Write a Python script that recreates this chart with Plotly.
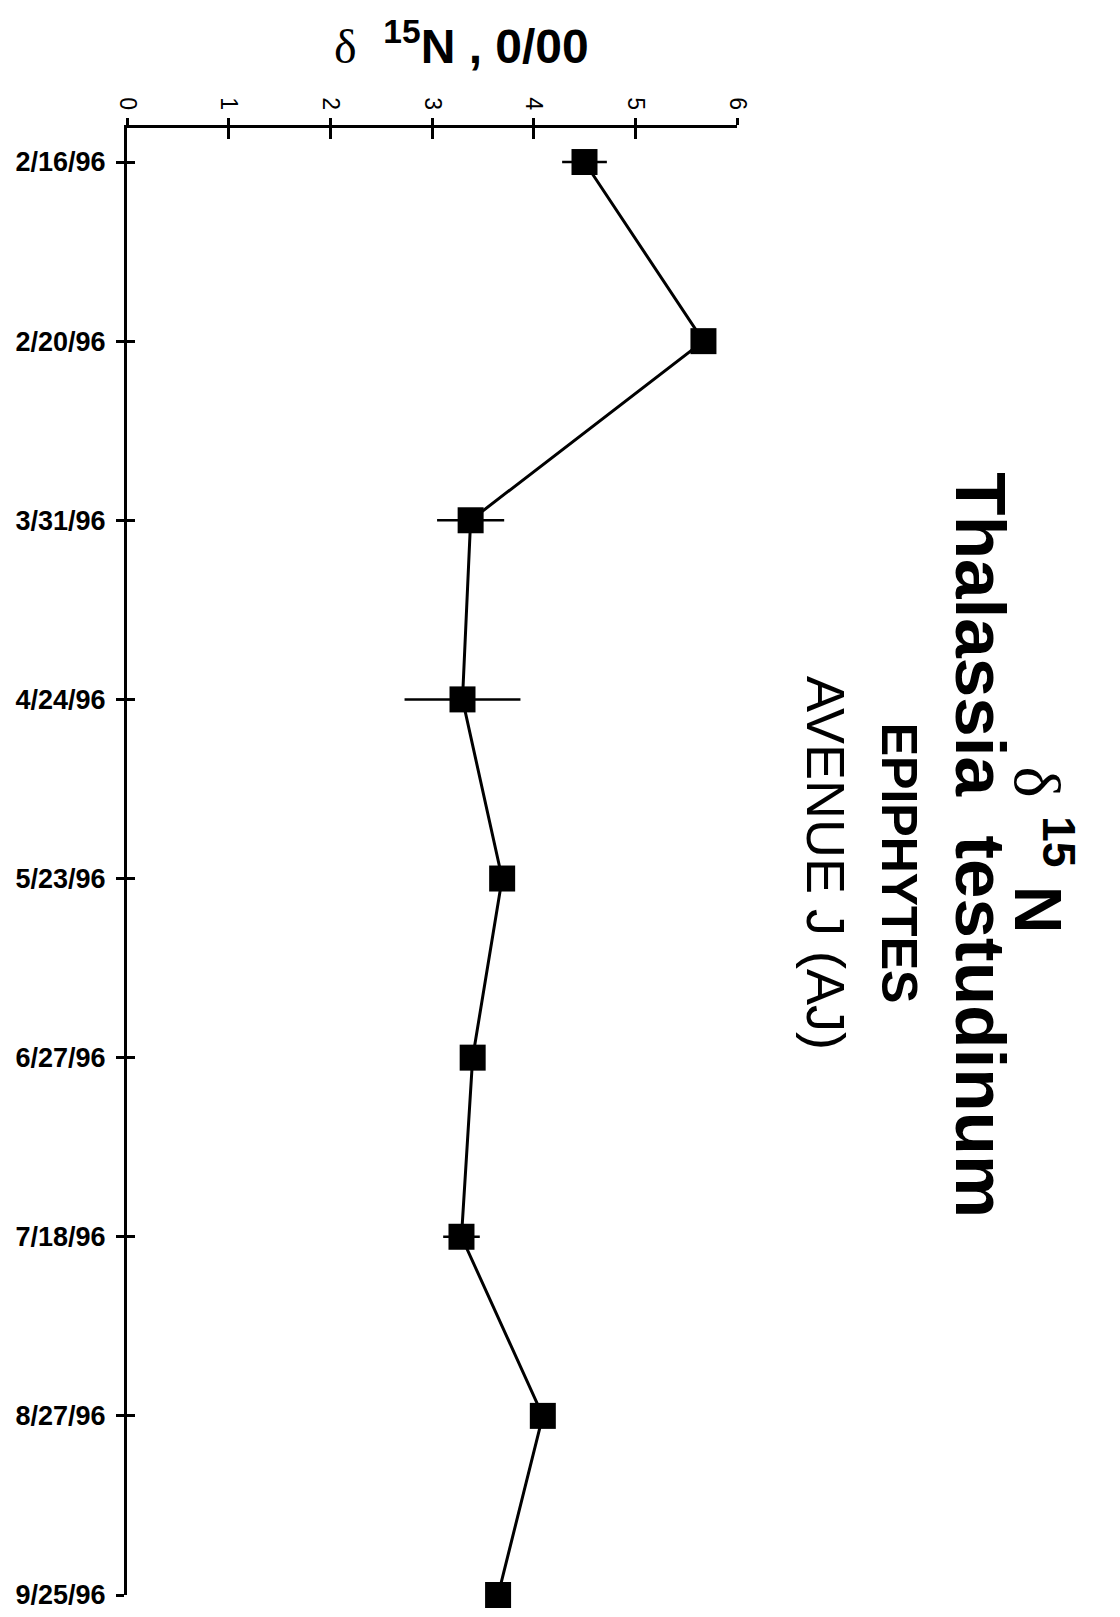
import plotly.graph_objects as go

# sampling dates and delta 15N of the epiphytes (per mil)
dates = ["2/16/96", "2/20/96", "3/31/96", "4/24/96", "5/23/96",
         "6/27/96", "7/18/96", "8/27/96", "9/25/96"]
d15n = [4.50, 5.67, 3.38, 3.30, 3.69, 3.40, 3.29, 4.09, 3.65]
d15n_err = [0.22, 0.05, 0.33, 0.57, 0.0, 0.0, 0.18, 0.05, 0.0]

value_ticks = [0, 1, 2, 3, 4, 5, 6]

FONT = "Liberation Sans, Arial, sans-serif"
SERIF = "Liberation Serif, Times New Roman, serif"

fig = go.Figure()

fig.add_trace(
    go.Scatter(
        x=d15n,
        y=dates,
        mode="lines+markers",
        line=dict(color="black", width=3),
        marker=dict(symbol="square", size=26, color="black"),
        error_x=dict(type="data", array=d15n_err, visible=True,
                     color="black", thickness=2.5, width=0),
        cliponaxis=False,
        showlegend=False,
        hoverinfo="skip",
    )
)

# invisible copy so the overlay axes (inner half of the crossing ticks) get drawn
fig.add_trace(
    go.Scatter(
        x=d15n,
        y=dates,
        xaxis="x2",
        yaxis="y2",
        mode="markers",
        marker=dict(opacity=0),
        showlegend=False,
        hoverinfo="skip",
    )
)

cat_range = [len(dates) - 1, -0.19]

# the page body adds an 8px margin, so the figure is 8px smaller
fig.update_layout(
    width=1112,
    height=1609,
    margin=dict(l=119, r=383, t=120, b=22, autoexpand=False),
    paper_bgcolor="white",
    plot_bgcolor="white",
    font=dict(family=FONT, color="black"),
    xaxis=dict(
        range=[0, 6],
        side="top",
        tickvals=value_ticks,
        tickangle=90,
        tickfont=dict(size=23),
        ticks="outside",
        ticklen=7,
        tickwidth=3,
        tickcolor="black",
        showline=True,
        linecolor="black",
        linewidth=3,
        showgrid=False,
        zeroline=False,
        automargin=False,
        anchor="y",
    ),
    xaxis2=dict(
        range=[0, 6],
        overlaying="x",
        side="top",
        anchor="y",
        tickvals=value_ticks,
        ticks="inside",
        ticklen=11,
        tickwidth=3,
        tickcolor="black",
        showticklabels=False,
        showline=False,
        showgrid=False,
        zeroline=False,
        automargin=False,
    ),
    yaxis=dict(
        type="category",
        categoryarray=dates,
        range=cat_range,
        tickfont=dict(size=27, weight="bold"),
        ticks="outside",
        ticklen=8,
        tickwidth=3,
        tickcolor="black",
        ticklabelstandoff=5,
        showline=True,
        linecolor="black",
        linewidth=3,
        showgrid=False,
        zeroline=False,
        automargin=False,
    ),
    yaxis2=dict(
        type="category",
        categoryarray=dates,
        range=cat_range,
        overlaying="y",
        side="left",
        anchor="x",
        ticks="inside",
        ticklen=8,
        tickwidth=3,
        tickcolor="black",
        showticklabels=False,
        showline=False,
        showgrid=False,
        zeroline=False,
        automargin=False,
    ),
)

# value axis title above the top axis
fig.add_annotation(
    text=f"<span style='font-family:{SERIF};font-weight:normal'>δ</span>"
         "  <sup>15</sup>N , 0/00",
    xref="paper", yref="paper", x=0.548, y=1.058,
    xanchor="center", yanchor="middle",
    showarrow=False, font=dict(size=48, weight="bold"),
)

# rotated titles on the right
titles = [
    (f"<span style='font-family:{SERIF};font-weight:normal'>δ</span> <sup>15</sup> N",
     1.502, 0.508, 66, "bold"),
    ("Thalassia  testudinum", 1.400, 0.511, 71, "bold"),
    ("EPIPHYTES", 1.266, 0.499, 50, "bold"),
    ("AVENUE J (AJ)", 1.146, 0.499, 54, "normal"),
]
for text, xp, yp, size, weight in titles:
    fig.add_annotation(
        text=text, xref="paper", yref="paper", x=xp, y=yp,
        xanchor="center", yanchor="middle",
        textangle=90, showarrow=False,
        font=dict(size=size, weight=weight),
    )

fig.write_html("out.html")
